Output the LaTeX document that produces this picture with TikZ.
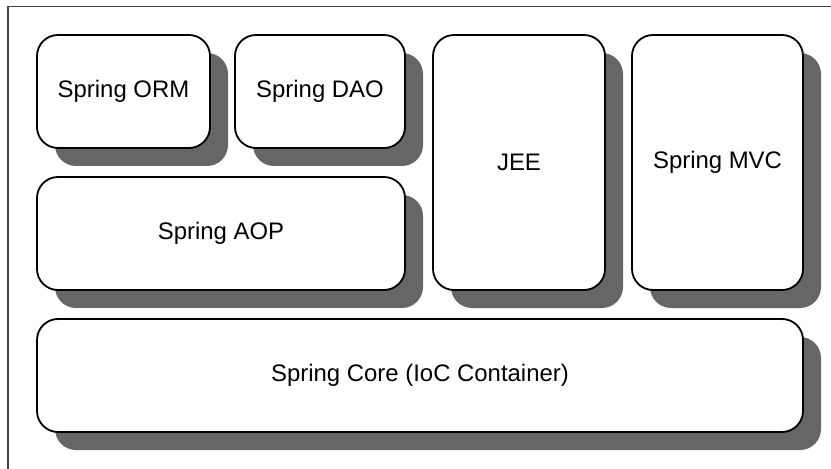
\documentclass[tikz,border=0pt]{standalone}
\usepackage{fontspec}
\setmainfont{Liberation Sans}
\usetikzlibrary{shadows}
\definecolor{shadowgray}{HTML}{666666}
\definecolor{framegray}{HTML}{444444}
\tikzset{
  layer/.style={draw=black, line width=1.8bp, fill=white, rounded corners=21bp,
    inner sep=0pt, outer sep=0pt, font=\fontsize{24}{28}\selectfont,
    drop shadow={shadow xshift=18bp, shadow yshift=-18bp, fill=shadowgray, opacity=1}},
  frame/.style={draw=framegray, line width=1.5bp}
}
\begin{document}
\begin{tikzpicture}[x=1bp,y=-1bp]
\useasboundingbox (0,0) rectangle (831,469);
\draw[frame] (8,469) -- (8,6.5) -- (831,6.5);
\node[layer, minimum width=173bp, minimum height=113bp] (orm) at (123.5,91.5) {Spring ORM};
\node[layer, minimum width=170bp, minimum height=113bp] (dao) at (320,91.5) {Spring DAO};
\node[layer, minimum width=172bp, minimum height=255bp] (jee) at (519,162.5) {JEE};
\node[layer, minimum width=171bp, minimum height=255bp] (mvc) at (717.5,162.5) {Spring MVC};
\node[layer, minimum width=368bp, minimum height=113bp] (aop) at (221,233.5) {Spring AOP};
\node[layer, minimum width=766bp, minimum height=113bp] (core) at (420,375.5) {Spring Core (IoC Container)};
\end{tikzpicture}
\end{document}
